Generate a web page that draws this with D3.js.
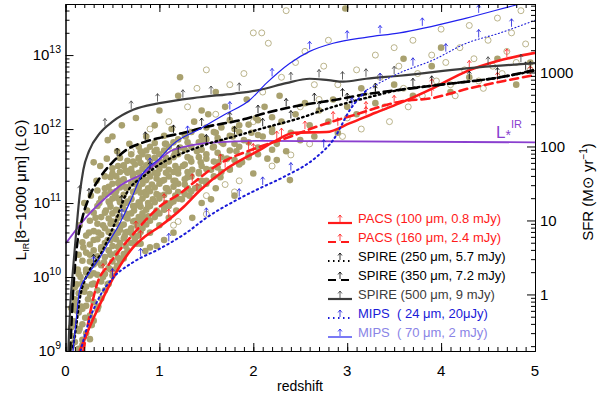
<!DOCTYPE html>
<html>
<head>
<meta charset="utf-8">
<script src="https://cdn.jsdelivr.net/npm/d3@7"></script>
<style>
  body { margin: 0; background: #fff; }
  svg { font-family: "Liberation Sans", Arial, sans-serif; }
</style>
</head>
<body>
<svg id="canvas"></svg>
<script>
// curves: [redshift, log10 L_IR]
let pacs100 = [[0.15,9.0],[0.3,9.45],[0.44,9.82],[0.58,10.15],[0.72,10.4],[0.85,10.55],[1.0,10.68],[1.26,10.95],[1.43,11.17],[1.7,11.45],[2.07,11.72],[2.25,11.85],[2.43,11.95],[2.78,11.96],[3.03,12.08],[3.3,12.22],[3.56,12.35],[3.91,12.55],[4.27,12.78],[4.6,12.92],[5,13.03]];
let pacs160 = [[0.19,9.0],[0.26,9.5],[0.34,9.92],[0.45,10.15],[0.55,10.32],[0.68,10.52],[0.79,10.68],[1.0,10.95],[1.22,11.13],[1.36,11.27],[1.6,11.5],[2.07,11.76],[2.4,11.9],[2.67,12.03],[3.1,12.2],[3.56,12.37],[3.91,12.42],[4.3,12.55],[4.63,12.64],[5,12.73]];
let spire250 = [[0.08,9.05],[0.12,9.4],[0.15,9.69],[0.26,10.1],[0.37,10.3],[0.51,10.68],[0.65,11.13],[0.85,11.38],[1.08,11.58],[1.3,11.7],[1.54,11.81],[1.8,11.9],[2.07,12.0],[2.5,12.15],[2.85,12.3],[3.2,12.42],[3.56,12.53],[4.0,12.6],[4.63,12.7],[5,12.79]];
let spire350 = [[0.05,9.0],[0.08,9.78],[0.12,10.4],[0.18,10.8],[0.26,11.1],[0.37,11.35],[0.5,11.55],[0.65,11.72],[0.83,11.82],[1.0,11.88],[1.26,11.95],[1.5,12.03],[1.86,12.12],[2.14,12.22],[2.5,12.32],[2.85,12.39],[3.2,12.47],[3.56,12.53],[4.0,12.6],[4.63,12.7],[5,12.8]];
let spire500 = [[0.03,9.0],[0.05,9.6],[0.08,10.1],[0.12,10.7],[0.15,11.1],[0.19,11.45],[0.25,11.7],[0.37,11.95],[0.5,12.1],[0.72,12.26],[1.0,12.35],[1.43,12.43],[1.8,12.48],[2.07,12.53],[2.35,12.62],[2.6,12.68],[2.8,12.66],[2.96,12.64],[3.2,12.68],[3.56,12.72],[4.27,12.82],[5,12.89]];
let mips24 = [[0.16,9.0],[0.25,9.4],[0.37,9.75],[0.5,9.98],[0.72,10.2],[1.0,10.38],[1.29,10.6],[1.5,10.8],[1.82,11.04],[2.07,11.2],[2.32,11.35],[2.67,11.62],[2.85,11.85],[3.03,12.26],[3.21,12.53],[3.56,12.76],[3.91,12.93],[4.27,13.16],[4.63,13.3],[5,13.47]];
let mips70 = [[0.08,9.0],[0.12,9.5],[0.15,9.82],[0.25,10.05],[0.37,10.27],[0.45,10.45],[0.58,10.73],[0.7,11.05],[0.8,11.35],[1.0,11.6],[1.15,11.8],[1.43,12.0],[1.7,12.2],[1.96,12.39],[2.14,12.62],[2.39,12.89],[2.6,13.05],[2.85,13.16],[3.2,13.24],[3.56,13.3],[4.27,13.5],[4.87,13.7],[5,13.74]];
let lstar = [[0,10.45],[0.25,10.85],[0.5,11.15],[0.6,11.25],[0.83,11.4],[1.15,11.72],[1.6,11.82],[2.07,11.84],[5,11.82]];

// where the upper-limit arrows sit on each curve
let arrows100 = [0.5,0.8,1.1,1.4,1.7,2.0,2.3,2.9,3.2,3.5,3.9,4.3,4.7];
let arrows160 = [0.4,0.75,1.05,1.35,1.65,1.95,2.25,2.55,2.85,3.2,3.9,4.6,4.95];
let arrows250 = [0.3,0.6,0.9,1.2,1.5,1.8,2.1,2.4,2.7,3.0,3.3,3.9,4.6,4.95];
let arrows350 = [0.25,0.55,0.85,1.15,1.45,1.75,2.05,2.35,2.65,2.95,3.3,3.7,4.3,4.9];
let arrows500 = [0.15,0.42,0.7,0.98,1.25,1.55,1.85,2.4,2.7,2.95,3.2,3.5,4.5,4.85];
let arrows24 = [0.5,0.8,1.1,1.5,1.85,2.1,2.4,2.75,3.05,3.35,3.7,4.05,4.4,4.75];
let arrows70 = [0.3,0.6,0.9,1.3,1.75,2.2,2.6,3.0,3.35,3.8,4.4];

// galaxies: [redshift, log10 L_IR]
let detected = [[0.07,9.1],[0.09,9.4],[0.1,9.7],[0.12,9.9],[0.08,9.2],[0.13,10.1],[0.11,9.55],[0.14,10.3],[0.15,9.3],[0.17,9.6],[0.16,10.0],[0.18,9.15],[0.2,9.8],[0.19,10.4],[0.22,10.1],[0.21,9.45],[0.24,9.7],[0.25,10.6],[0.23,10.9],[0.26,10.3],[0.28,9.9],[0.27,11.1],[0.3,10.5],[0.3,10.05],[0.32,10.8],[0.33,11.3],[0.34,10.2],[0.35,10.6],[0.36,11.0],[0.38,10.4],[0.37,11.5],[0.4,10.7],[0.41,10.2],[0.42,11.2],[0.43,10.9],[0.45,10.5],[0.44,11.6],[0.47,11.0],[0.48,10.3],[0.5,10.75],[0.5,11.4],[0.52,10.55],[0.53,11.1],[0.55,10.9],[0.55,11.7],[0.57,10.4],[0.58,11.3],[0.6,10.7],[0.6,11.0],[0.62,11.5],[0.63,10.55],[0.65,11.2],[0.66,10.85],[0.68,11.8],[0.7,10.6],[0.7,11.05],[0.72,11.4],[0.73,10.9],[0.75,11.25],[0.76,10.7],[0.78,11.6],[0.79,11.0],[0.8,10.45],[0.82,11.35],[0.83,10.8],[0.85,11.15],[0.86,11.9],[0.88,10.95],[0.9,11.5],[0.9,10.6],[0.92,11.25],[0.93,11.05],[0.95,11.7],[0.96,10.85],[0.98,11.4],[1.0,11.1],[1.0,10.7],[1.02,11.55],[1.03,11.3],[1.05,10.95],[1.06,11.8],[1.08,11.2],[1.1,10.8],[1.1,11.45],[1.12,11.0],[1.13,12.0],[1.15,11.3],[1.16,11.65],[1.18,10.9],[1.2,11.4],[1.2,11.15],[1.22,11.75],[1.24,11.05],[1.25,11.5],[1.27,11.25],[1.28,11.9],[1.3,11.35],[1.32,11.1],[1.33,11.6],[1.35,11.45],[1.37,12.1],[1.38,11.2],[1.4,11.7],[1.42,11.4],[1.44,11.55],[1.45,11.0],[1.47,11.85],[1.5,11.3],[1.5,11.6],[1.52,12.2],[1.55,11.45],[1.57,11.75],[1.6,11.2],[1.6,11.95],[1.63,11.55],[1.65,11.35],[1.68,11.8],[1.7,12.3],[1.72,11.6],[1.75,11.45],[1.78,11.9],[1.8,11.1],[1.82,11.7],[1.85,12.05],[1.88,11.55],[1.9,11.85],[1.93,12.4],[1.95,11.65],[1.98,11.95],[2.0,11.4],[2.03,12.15],[2.05,11.75],[2.1,11.9],[2.12,12.3],[2.15,11.6],[2.2,12.0],[2.25,11.8],[2.28,12.45],[2.3,12.1],[2.35,11.7],[2.4,11.95],[2.45,12.2],[2.5,11.85],[2.55,12.35],[2.6,12.05],[2.65,11.9],[2.7,12.25],[2.8,12.1],[2.85,12.4],[2.9,11.95],[3.0,12.3],[3.1,12.2],[3.15,12.55],[3.3,12.35],[3.5,12.6],[3.7,12.45],[3.9,12.85],[4.1,12.5],[4.3,12.7],[4.6,12.95],[4.8,12.6],[4.95,12.9],[3.6,12.95],[4.0,13.1],[2.98,13.63],[1.22,12.7],[0.5,11.9],[0.6,12.05],[0.3,11.55],[0.75,12.15],[1.0,12.25],[1.2,12.45],[1.6,12.5],[0.2,11.0],[0.15,10.7],[0.76,10.45],[0.9,10.4],[0.97,10.42],[1.05,10.5],[2.39,11.31],[2.25,11.58],[0.45,11.85],[0.62,10.25],[0.4,10.0],[0.55,10.15],[0.85,10.35],[1.15,10.6],[1.35,10.8],[1.55,11.05],[0.95,12.05],[1.45,12.25],[0.35,9.6],[0.28,9.35],[0.45,9.9]];

// the dense core of the detected cloud, read column by column: [redshift, [log10 L_IR ...]]
let coreCols = [
  [0.06, [9.05, 9.32, 9.58]],
  [0.1, [9.12, 9.37, 9.63, 9.86]],
  [0.14, [9.03, 9.27, 9.52, 9.78, 10.04]],
  [0.18, [9.08, 9.36, 9.57, 9.92, 10.22, 10.47]],
  [0.22, [9.24, 9.61, 9.87, 10.06, 10.33, 10.56]],
  [0.26, [9.16, 9.48, 9.77, 10.02, 10.21, 10.44, 10.76]],
  [0.3, [9.41, 9.66, 9.91, 10.17, 10.36, 10.62, 10.87]],
  [0.34, [9.56, 9.82, 10.03, 10.28, 10.51, 10.72, 10.96, 11.17]],
  [0.38, [9.71, 9.94, 10.16, 10.37, 10.57, 10.81, 11.06]],
  [0.42, [9.82, 10.04, 10.27, 10.46, 10.66, 10.87, 11.12, 11.36]],
  [0.46, [9.91, 10.12, 10.36, 10.61, 10.79, 11.02, 11.22]],
  [0.5, [10.02, 10.21, 10.42, 10.61, 10.86, 11.06, 11.26, 11.47]],
  [0.54, [10.11, 10.32, 10.51, 10.72, 10.91, 11.16, 11.36]],
  [0.58, [10.22, 10.46, 10.64, 10.82, 11.01, 11.21, 11.42, 11.61]],
  [0.62, [10.31, 10.52, 10.71, 10.92, 11.11, 11.32, 11.51]],
  [0.66, [10.36, 10.61, 10.79, 11.02, 11.21, 11.41, 11.57]],
  [0.7, [10.46, 10.66, 10.86, 11.06, 11.26, 11.46, 11.66]],
  [0.74, [10.52, 10.76, 10.96, 11.16, 11.31, 11.52]],
  [0.78, [10.56, 10.81, 11.01, 11.21, 11.41, 11.61, 11.76]],
  [0.82, [10.66, 10.86, 11.06, 11.26, 11.46, 11.66]],
  [0.86, [10.71, 10.91, 11.11, 11.31, 11.51, 11.71]],
  [0.9, [10.76, 10.96, 11.16, 11.36, 11.56, 11.76]],
  [0.95, [10.81, 11.01, 11.21, 11.41, 11.61, 11.81]],
  [1.0, [10.86, 11.06, 11.26, 11.46, 11.66]],
  [1.05, [10.91, 11.11, 11.31, 11.51, 11.71, 11.91]],
  [1.1, [10.96, 11.16, 11.36, 11.56, 11.76]],
  [1.15, [11.02, 11.22, 11.42, 11.62, 11.82]],
  [1.2, [11.06, 11.26, 11.46, 11.66, 11.86]],
  [1.27, [11.12, 11.32, 11.52, 11.72, 11.92]],
  [1.34, [11.16, 11.36, 11.56, 11.76, 11.96]],
  [1.42, [11.22, 11.42, 11.62, 11.82]],
  [1.5, [11.26, 11.46, 11.66, 11.86, 12.02]],
  [1.58, [11.36, 11.56, 11.76, 11.96]],
  [1.66, [11.42, 11.62, 11.82, 12.02]],
  [1.75, [11.46, 11.71, 11.91, 12.12]],
  [1.85, [11.52, 11.76, 11.96]],
  [1.95, [11.62, 11.82, 12.06]],
  [2.05, [11.66, 11.92, 12.12]],
  [2.2, [11.72, 11.96, 12.16]],
  // in-between columns where the cloud is nearly solid
  [0.48, [10.1, 10.31, 10.5, 10.72, 10.95, 11.15, 11.35]],
  [0.56, [10.26, 10.41, 10.6, 10.8, 11.06, 11.27, 11.5]],
  [0.64, [10.42, 10.6, 10.81, 11.0, 11.22, 11.44]],
  [0.72, [10.56, 10.75, 10.96, 11.15, 11.36, 11.56]],
  [0.8, [10.61, 10.76, 10.95, 11.14, 11.33, 11.54, 11.7]],
  [0.88, [10.82, 11.0, 11.2, 11.41, 11.62]],
  [0.97, [10.9, 11.12, 11.33, 11.52, 11.72]],
  [1.07, [11.0, 11.2, 11.41, 11.61, 11.8]],
  [1.17, [11.1, 11.3, 11.5, 11.7]],
  [1.3, [11.2, 11.42, 11.62, 11.82]],
  [1.45, [11.3, 11.5, 11.72, 11.9]],
  [1.62, [11.48, 11.68, 11.88]],
  [1.8, [11.58, 11.8, 12.0]]
];
let undetected = [[1.3,11.2],[1.5,11.1],[1.7,11.25],[1.8,11.15],[1.85,11.3],[1.15,10.7],[1.2,10.75],[1.5,10.85],[2.2,11.5],[2.4,11.65],[2.6,11.8],[2.7,12.4],[2.9,12.6],[3.0,12.15],[3.1,12.8],[3.2,12.45],[3.3,13.0],[3.35,12.7],[3.4,12.3],[3.5,13.1],[3.55,12.85],[3.6,12.55],[3.7,13.2],[3.75,12.75],[3.8,12.45],[3.9,13.0],[3.95,12.65],[4.0,13.35],[4.05,12.9],[4.1,12.6],[4.2,13.1],[4.25,12.8],[4.3,13.4],[4.35,12.95],[4.4,12.65],[4.5,13.2],[4.55,12.85],[4.6,13.5],[4.65,12.75],[4.7,13.05],[4.75,13.3],[4.8,12.9],[4.85,13.6],[4.9,13.15],[4.95,12.8],[2.0,12.1],[2.1,12.5],[2.3,12.7],[2.45,12.9],[2.5,12.3],[2.55,13.05],[2.65,12.6],[2.75,12.85],[2.8,13.2],[1.3,12.3],[1.4,12.55],[1.5,12.8],[1.6,12.2],[1.75,12.6],[1.9,12.75],[2.0,13.3],[2.09,13.3],[2.16,13.16],[2.35,13.6],[0.9,12.0],[0.7,11.7],[1.1,12.1],[3.45,12.1],[3.65,12.3],[2.95,11.9],[3.15,12.0],[4.15,12.45],[4.45,12.55]];

let xTicks = [0,1,2,3,4,5];
let yDecades = [9,10,11,12,13];
let sfrTicks = [1,10,100,1000];
let sfrPerL = 1.72e-10;

let svg = d3.select("#canvas").attr("width", 600).attr("height", 394);

let pLeft = 65.5, pRight = 535, pTop = 4, pBottom = 351;
let x = d3.scaleLinear([0, 5], [pLeft, pRight]);
let y = d3.scaleLog([1e9, 4.9e13], [pBottom, pTop]);
let ySfr = d3.scaleLog([1e9 * sfrPerL, 4.9e13 * sfrPerL], [pBottom, pTop]);

svg.append("clipPath").attr("id", "plot")
  .append("rect").attr("x", pLeft).attr("y", pTop)
  .attr("width", pRight - pLeft).attr("height", pBottom - pTop);

let plot = svg.append("g").attr("clip-path", "url(#plot)");

// galaxies
let dotColor = "#a9a16f";
let filled = detected.concat(coreCols.flatMap(([z, ls]) => ls.map(l => [z, l])));
plot.selectAll(".open").data(undetected).join("circle")
  .attr("cx", d => x(d[0])).attr("cy", d => y(10 ** d[1])).attr("r", 3)
  .attr("fill", "none").attr("stroke", dotColor).attr("stroke-width", 0.8);
plot.selectAll(".filled").data(filled).join("circle")
  .attr("cx", d => x(d[0])).attr("cy", d => y(10 ** d[1])).attr("r", 3.3)
  .attr("fill", dotColor);

let line = d3.line().x(d => x(d[0])).y(d => y(10 ** d[1])).curve(d3.curveMonotoneX);

let series = [
  { data: pacs100, arrows: arrows100, color: "#ff1a1a", width: 2.6, dash: null, label: "PACS (100 \u03bcm, 0.8 mJy)", text: "#ff1a1a" },
  { data: pacs160, arrows: arrows160, color: "#ff1a1a", width: 2.6, dash: "8,5", label: "PACS (160 \u03bcm, 2.4 mJy)", text: "#ff1a1a" },
  { data: spire250, arrows: arrows250, color: "#000", width: 2.4, dash: "1.5,3.5", label: "SPIRE (250 \u03bcm, 5.7 mJy)", text: "#000" },
  { data: spire350, arrows: arrows350, color: "#000", width: 2.6, dash: "8,5", label: "SPIRE (350 \u03bcm, 7.2 mJy)", text: "#000" },
  { data: spire500, arrows: arrows500, color: "#3c3c3c", width: 2.2, dash: null, label: "SPIRE (500 \u03bcm, 9 mJy)", text: "#3c3c3c" },
  { data: mips24, arrows: arrows24, color: "#1a1ad8", width: 2, dash: "1.5,3.5", label: "MIPS\u00a0\u00a0( 24 \u03bcm, 20\u03bcJy)", text: "#1a1ad8", thinFrom: 3.21 },
  { data: mips70, arrows: arrows70, color: "#2020ee", width: 1.2, dash: null, label: "MIPS\u00a0\u00a0( 70 \u03bcm, 2 mJy)", text: "#8a84e6" }
];

plot.append("path").datum(lstar)
  .attr("d", line).attr("fill", "none")
  .attr("stroke", "#8a3fcf").attr("stroke-width", 1.8);

series.forEach(s => {
  // the 24 um track turns into a thin dotted line at high redshift
  let thick = s.thinFrom ? s.data.filter(d => d[0] <= s.thinFrom) : s.data;
  plot.append("path").datum(thick)
    .attr("d", line).attr("fill", "none")
    .attr("stroke", s.color).attr("stroke-width", s.width)
    .attr("stroke-dasharray", s.dash).attr("stroke-linecap", s.dash ? "round" : "butt");
  if (s.thinFrom) {
    plot.append("path").datum(s.data.filter(d => d[0] >= s.thinFrom))
      .attr("d", line).attr("fill", "none")
      .attr("stroke", s.color).attr("stroke-width", 1.1)
      .attr("stroke-dasharray", "1,2.5").attr("stroke-linecap", "round");
  }

  let onCurve = d3.scaleLinear(s.data.map(d => d[0]), s.data.map(d => d[1]));
  let g = plot.append("g").attr("stroke", s.color).attr("stroke-width", 0.8).attr("fill", "none");
  s.arrows.forEach(z => {
    let ax = x(z), ay = y(10 ** onCurve(z)) - 2;
    g.append("path").attr("d", `M${ax},${ay} V${ay - 8} M${ax - 2},${ay - 5.5} L${ax},${ay - 8} L${ax + 2},${ay - 5.5}`);
  });
});

// L*IR label
let lstarLabel = svg.append("text").attr("x", 496).attr("y", 138)
  .attr("fill", "#8a3fcf").attr("font-size", 17);
lstarLabel.append("tspan").text("L");
lstarLabel.append("tspan").attr("font-size", 14).attr("dy", 2).text("*");
lstarLabel.append("tspan").attr("font-size", 11).attr("dy", -12).text("IR");

// axes, ticks pointing inward
function minorLog(scale) {
  let [a, b] = scale.domain();
  let out = [];
  for (let k = Math.floor(Math.log10(a)); k <= Math.ceil(Math.log10(b)); k++)
    for (let m = 2; m <= 9; m++) {
      let v = m * 10 ** k;
      if (v >= a && v <= b) out.push(v);
    }
  return out;
}

let axes = svg.append("g").attr("stroke-width", 1);
axes.append("g").attr("transform", `translate(0,${pBottom})`)
  .call(d3.axisBottom(x).tickValues(xTicks).tickSize(-8).tickSizeOuter(0).tickFormat(""));
axes.append("g").attr("transform", `translate(0,${pBottom})`)
  .call(d3.axisBottom(x).tickValues(d3.range(51).map(i => i / 10)).tickSize(-4).tickSizeOuter(0).tickFormat(""));
axes.append("g").attr("transform", `translate(0,${pTop})`)
  .call(d3.axisTop(x).tickValues(xTicks).tickSize(-8).tickSizeOuter(0).tickFormat(""));
axes.append("g").attr("transform", `translate(0,${pTop})`)
  .call(d3.axisTop(x).tickValues(d3.range(51).map(i => i / 10)).tickSize(-4).tickSizeOuter(0).tickFormat(""));
axes.append("g").attr("transform", `translate(${pLeft},0)`)
  .call(d3.axisLeft(y).tickValues(yDecades.map(k => 10 ** k)).tickSize(-8).tickSizeOuter(0).tickFormat(""));
axes.append("g").attr("transform", `translate(${pLeft},0)`)
  .call(d3.axisLeft(y).tickValues(minorLog(y)).tickSize(-4).tickSizeOuter(0).tickFormat(""));
axes.append("g").attr("transform", `translate(${pRight},0)`)
  .call(d3.axisRight(ySfr).tickValues(sfrTicks).tickSize(-8).tickSizeOuter(0).tickFormat(""));
axes.append("g").attr("transform", `translate(${pRight},0)`)
  .call(d3.axisRight(ySfr).tickValues(minorLog(ySfr)).tickSize(-4).tickSizeOuter(0).tickFormat(""));
axes.selectAll(".domain").attr("stroke", "#000");
axes.selectAll(".tick line").attr("stroke", "#000");

// tick labels
svg.selectAll(".xlab").data(xTicks).join("text")
  .attr("x", d => x(d)).attr("y", 376).attr("text-anchor", "middle")
  .attr("font-size", 15).text(d => d);

let ylab = svg.selectAll(".ylab").data(yDecades).join("text")
  .attr("x", 61).attr("y", d => y(10 ** d) + 5).attr("text-anchor", "end")
  .attr("font-size", 15);
ylab.append("tspan").text("10");
ylab.append("tspan").attr("font-size", 10.5).attr("dy", -7).text(d => d);

svg.selectAll(".sfrlab").data(sfrTicks).join("text")
  .attr("x", 540).attr("y", d => ySfr(d) + 5.5)
  .attr("font-size", 15).text(d => d);

// axis titles
svg.append("text").attr("x", 300).attr("y", 391).attr("text-anchor", "middle")
  .attr("font-size", 14).text("redshift");

let ytitle = svg.append("text").attr("transform", "translate(26,190) rotate(-90)")
  .attr("text-anchor", "middle").attr("font-size", 15.5);
ytitle.append("tspan").text("L");
ytitle.append("tspan").attr("font-size", 9).attr("dy", 3).text("IR");
ytitle.append("tspan").attr("dy", -3).text("[8\u22121000 \u03bcm] (L\u2299)");

let rtitle = svg.append("text").attr("transform", "translate(593,192) rotate(-90)")
  .attr("text-anchor", "middle").attr("font-size", 15);
rtitle.append("tspan").text("SFR (M\u2299 yr");
rtitle.append("tspan").attr("font-size", 10).attr("dy", -6).text("\u22121");
rtitle.append("tspan").attr("dy", 6).text(")");

// legend
let legend = svg.append("g").selectAll("g").data(series).join("g")
  .attr("transform", (d, i) => `translate(328,${223 + i * 19})`);
legend.append("line").attr("x1", 0).attr("x2", 24).attr("y1", 0).attr("y2", 0)
  .attr("stroke", d => d.color).attr("stroke-width", d => Math.min(d.width, 2.2))
  .attr("stroke-dasharray", d => d.dash);
legend.append("path").attr("d", "M12,-1 V-8 M10,-5.5 L12,-8 L14,-5.5")
  .attr("fill", "none").attr("stroke", d => d.color).attr("stroke-width", 0.8);
legend.append("text").attr("x", 30).attr("y", 0).attr("font-size", 13)
  .attr("fill", d => d.text).text(d => d.label);
</script>
</body>
</html>
